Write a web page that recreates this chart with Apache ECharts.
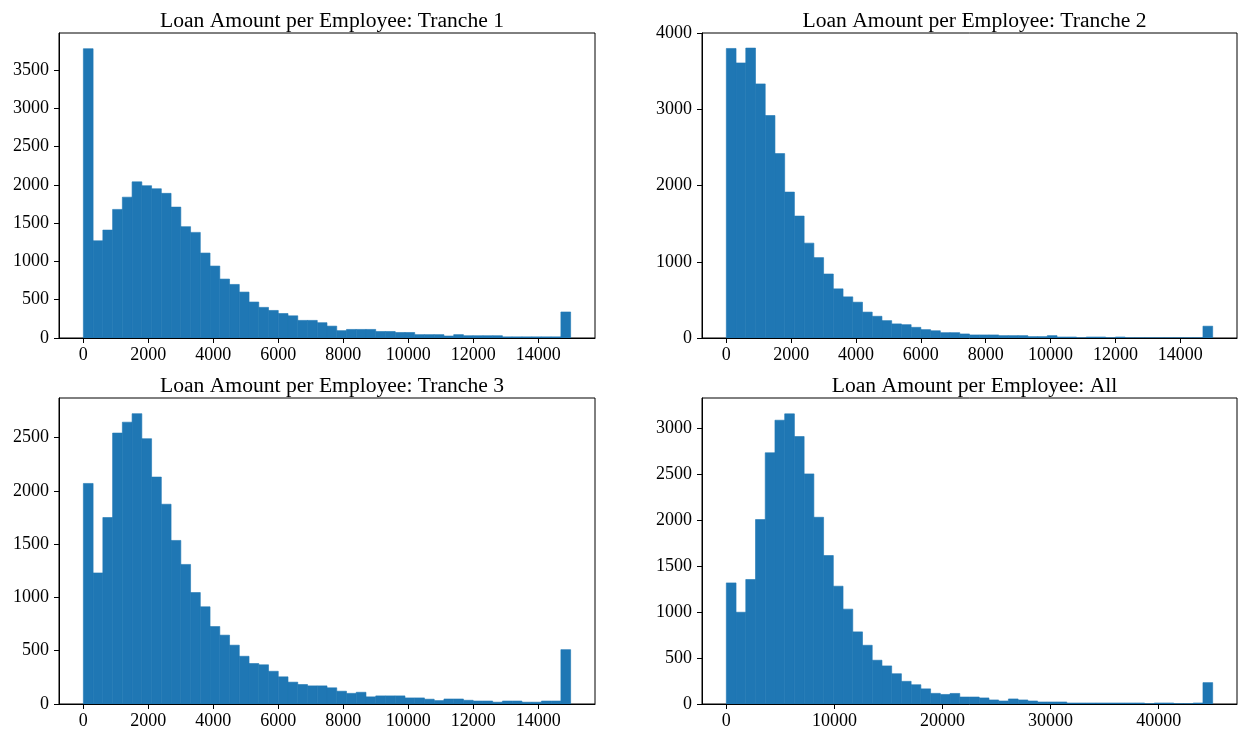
<!DOCTYPE html>
<html>
<head>
<meta charset="utf-8">
<script src="https://cdn.jsdelivr.net/npm/echarts@6/dist/echarts.min.js"></script>
<style>
  html, body { margin: 0; padding: 0; background: #fff; }
  #chart { width: 1238px; height: 731px; }
</style>
</head>
<body>
<div id="chart"></div>
<script>
// ---- Data (histogram counts, 50 bins each) ----
const titles = [
  'Loan Amount per Employee: Tranche 1',
  'Loan Amount per Employee: Tranche 2',
  'Loan Amount per Employee: Tranche 3',
  'Loan Amount per Employee: All'
];
const trancheRange = [0, 15000];
const allRange = [0, 45000];
const binCount = 50;

const tranche1 = [3780,1270,1410,1680,1840,2040,1990,1950,1890,1710,
                  1455,1380,1110,940,770,700,600,470,400,360,
                  320,290,230,230,200,155,96,112,112,112,
                  85,85,72,72,44,44,44,26,44,30,
                  30,30,30,15,15,15,15,15,15,340];
const tranche2 = [3800,3610,3805,3335,2920,2420,1915,1600,1245,1055,
                  840,645,540,470,340,285,228,185,175,140,
                  110,95,70,70,53,40,40,40,31,31,
                  31,18,18,31,13,13,3,13,13,3,
                  13,2,2,2,2,2,2,2,2,155];
const tranche3 = [2070,1230,1750,2543,2645,2725,2490,2130,1875,1535,
                  1310,1046,912,727,646,552,448,380,368,307,
                  255,205,183,170,170,152,120,100,110,67,
                  76,76,76,57,57,45,32,47,47,35,
                  28,28,17,28,28,17,17,28,28,510];
const allTranches = [1320,1000,1357,2010,2738,3093,3162,2915,2508,2035,
                     1618,1284,1034,786,640,477,415,330,247,210,
                     165,116,104,115,76,76,66,44,33,55,
                     44,33,22,22,22,11,11,11,11,11,
                     11,11,11,3,11,11,3,3,11,233];

const xTicksTranche = [0,2000,4000,6000,8000,10000,12000,14000];
const xTicksAll = [0,10000,20000,30000,40000];
const yTicks = [
  [0,500,1000,1500,2000,2500,3000,3500],
  [0,1000,2000,3000,4000],
  [0,500,1000,1500,2000,2500],
  [0,500,1000,1500,2000,2500,3000]
];
const yMax = [3985, 4003, 2872, 3335];

// ---- Layout / style ----
const FONT = 'Liberation Serif';
const BAR = '#1f77b4';
const grids = [
  { left: 59,  top: 33,  width: 536, height: 305 },
  { left: 702, top: 33,  width: 535, height: 305 },
  { left: 59,  top: 398, width: 536, height: 306 },
  { left: 702, top: 398, width: 535, height: 306 }
];
const titleTops = [5, 5, 370, 370];
const datasets = [tranche1, tranche2, tranche3, allTranches];
const ranges = [trancheRange, trancheRange, trancheRange, allRange];
const xTicks = [xTicksTranche, xTicksTranche, xTicksTranche, xTicksAll];

function histData(counts, range) {
  const w = (range[1] - range[0]) / binCount;
  return counts.map((c, i) => [range[0] + i * w, range[0] + (i + 1) * w, c]);
}
const plain = v => String(Math.round(v));

const option = {
  animation: false,
  backgroundColor: '#fff',
  title: grids.map((g, i) => ({
    text: titles[i],
    left: g.left + g.width / 2,
    top: titleTops[i],
    textAlign: 'center',
    textStyle: { fontFamily: FONT, fontSize: 21.6, fontWeight: 'normal', color: '#000' }
  })),
  grid: grids.map(g => Object.assign({ show: true, borderColor: '#000', borderWidth: 1, backgroundColor: 'transparent', containLabel: false }, g)),
  xAxis: grids.map((g, i) => {
    const r = ranges[i];
    const pad = (r[1] - r[0]) * 0.05;
    return {
      type: 'value', gridIndex: i, min: r[0] - pad, max: r[1] + pad, z: 5,
      axisLine: { show: true, onZero: false, lineStyle: { color: '#000', width: 1 } },
      axisTick: { show: true, length: 5, lineStyle: { color: '#000', width: 1 }, customValues: xTicks[i] },
      axisLabel: { show: true, margin: 8, fontFamily: FONT, fontSize: 18, color: '#000', customValues: xTicks[i], formatter: plain },
      splitLine: { show: false }
    };
  }),
  yAxis: grids.map((g, i) => ({
    type: 'value', gridIndex: i, min: 0, max: yMax[i], z: 5,
    axisLine: { show: true, onZero: false, lineStyle: { color: '#000', width: 1 } },
    axisTick: { show: true, length: 5, lineStyle: { color: '#000', width: 1 }, customValues: yTicks[i] },
    axisLabel: { show: true, margin: 10, fontFamily: FONT, fontSize: 18, color: '#000', customValues: yTicks[i], formatter: plain },
    splitLine: { show: false }
  })),
  series: datasets.map((counts, i) => ({
    type: 'custom', xAxisIndex: i, yAxisIndex: i, z: 2,
    data: histData(counts, ranges[i]),
    encode: { x: [0, 1], y: 2 },
    renderItem: function (params, api) {
      const p0 = api.coord([api.value(0), 0]);
      const p1 = api.coord([api.value(1), api.value(2)]);
      return {
        type: 'rect',
        shape: { x: p0[0], y: p1[1], width: p1[0] - p0[0], height: p0[1] - p1[1] },
        style: { fill: BAR, stroke: BAR, lineWidth: 0.6 }
      };
    }
  }))
};

const chart = echarts.init(document.getElementById('chart'), null, { renderer: 'canvas' });
chart.setOption(option);
</script>
</body>
</html>
